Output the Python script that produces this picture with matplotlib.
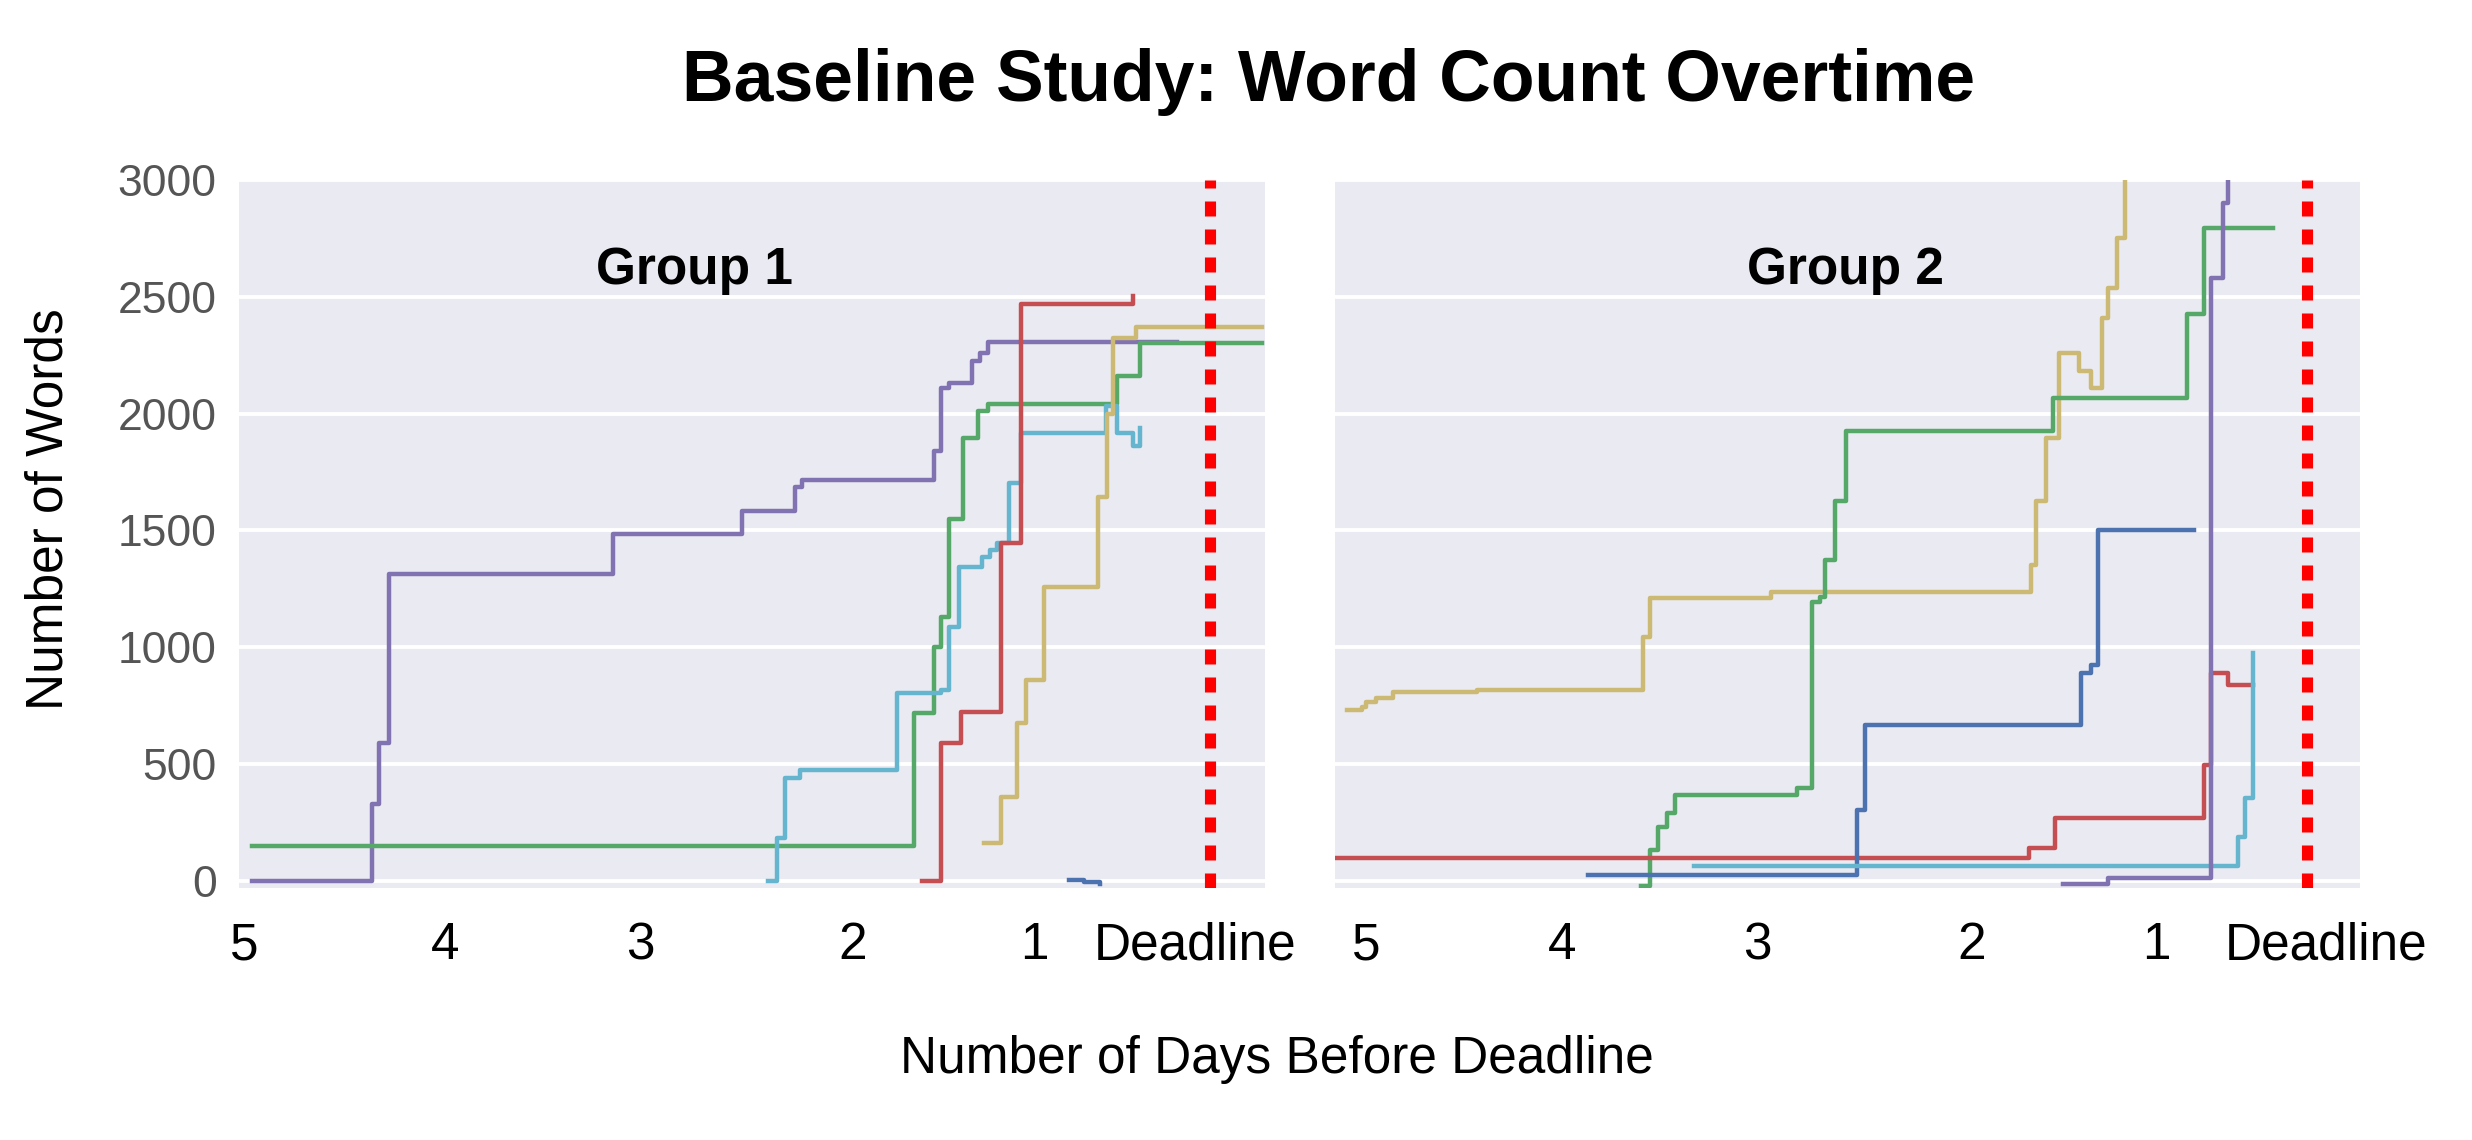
"""Baseline study: word count over time for two groups of writers."""

import matplotlib
matplotlib.use("Agg")
from matplotlib import pyplot as plt

# Days before the deadline (0 = deadline) and word counts.
# Each series is drawn as a step line.
g1_purple_days = [4.96, 4.34, 4.30, 4.25, 3.09, 2.42, 2.15, 2.11, 1.43, 1.39, 1.35, 1.23, 1.19, 1.15, 0.17]
g1_purple_words = [0, 330, 590, 1315, 1485, 1585, 1685, 1715, 1840, 2110, 2130, 2225, 2260, 2305, 2305]
g1_green_days = [4.96, 1.53, 1.43, 1.39, 1.35, 1.28, 1.20, 1.15, 0.48, 0.36, -0.27]
g1_green_words = [150, 718, 1000, 1128, 1550, 1897, 2013, 2043, 2162, 2300, 2300]
g1_cyan_days = [2.29, 2.24, 2.20, 2.12, 1.62, 1.39, 1.35, 1.30, 1.18, 1.14, 1.10, 1.04, 0.98, 0.54, 0.48, 0.40, 0.36]
g1_cyan_words = [0, 184, 440, 474, 803, 816, 1085, 1342, 1385, 1415, 1444, 1701, 1919, 2034, 1915, 1863, 1940]
g1_red_days = [1.49, 1.39, 1.29, 1.08, 0.98, 0.40]
g1_red_words = [0, 590, 722, 1444, 2470, 2504]
g1_yellow_days = [1.17, 1.08, 1.00, 0.95, 0.86, 0.58, 0.53, 0.50, 0.38, -0.27]
g1_yellow_words = [162, 359, 675, 859, 1256, 1641, 2000, 2325, 2372, 2372]
g1_blue_days = [0.73, 0.65, 0.57]
g1_blue_words = [5, -5, -15]

g2_yellow_days = [5.10, 5.02, 5.00, 4.95, 4.86, 4.41, 3.53, 3.49, 2.85, 1.47, 1.44, 1.39, 1.32,
                  1.21, 1.15, 1.09, 1.06, 1.01, 0.97]
g2_yellow_words = [731, 745, 765, 782, 808, 816, 1043, 1209, 1235, 1350, 1628, 1897, 2261,
                   2184, 2111, 2410, 2538, 2752, 3050]
g2_green_days = [3.54, 3.49, 3.45, 3.40, 3.36, 2.71, 2.63, 2.59, 2.56, 2.51, 2.45, 1.35, 0.64, 0.55, 0.18]
g2_green_words = [-20, 132, 231, 290, 368, 397, 1192, 1214, 1372, 1628, 1927, 2068, 2427, 2795, 2795]
g2_red_days = [5.16, 1.48, 1.34, 0.55, 0.51, 0.42, 0.29]
g2_red_words = [98, 141, 269, 496, 889, 838, 838]
g2_blue_days = [3.82, 2.39, 2.35, 1.20, 1.15, 1.11, 0.60]
g2_blue_words = [26, 303, 667, 889, 923, 1500, 1500]
g2_cyan_days = [3.26, 0.37, 0.33, 0.29]
g2_cyan_words = [65, 188, 355, 974]
g2_purple_days = [1.30, 1.06, 0.51, 0.45, 0.42]
g2_purple_words = [-15, 12, 2581, 2902, 3050]

y_ticks = [0, 500, 1000, 1500, 2000, 2500, 3000]
x_tick_labels = ["5", "4", "3", "2", "1", "Deadline"]
# where the hand-placed day labels sit, in days before the deadline
g1_label_days = [5.0, 3.96, 2.95, 1.85, 0.906, 0.078]
g2_label_days = [5.0, 3.96, 2.92, 1.785, 0.802, -0.10]

BLUE, GREEN, RED = "#4C72B0", "#55A868", "#C44E52"
PURPLE, YELLOW, CYAN = "#8172B2", "#CCB974", "#64B5CD"

plt.rcParams["font.family"] = ["Liberation Sans", "DejaVu Sans"]

fig = plt.figure(figsize=(24.72, 11.4), dpi=100)
ax1 = fig.add_axes([0.0967, 0.2211, 0.4150, 0.6211])
ax2 = fig.add_axes([0.5401, 0.2211, 0.4147, 0.6211])

group1 = [(g1_purple_days, g1_purple_words, PURPLE), (g1_green_days, g1_green_words, GREEN),
          (g1_cyan_days, g1_cyan_words, CYAN), (g1_red_days, g1_red_words, RED),
          (g1_yellow_days, g1_yellow_words, YELLOW), (g1_blue_days, g1_blue_words, BLUE)]
group2 = [(g2_yellow_days, g2_yellow_words, YELLOW), (g2_green_days, g2_green_words, GREEN),
          (g2_red_days, g2_red_words, RED), (g2_blue_days, g2_blue_words, BLUE),
          (g2_cyan_days, g2_cyan_words, CYAN), (g2_purple_days, g2_purple_words, PURPLE)]

panels = [(ax1, group1, (5.026, -0.285), g1_label_days, "Group 1", 0.4435),
          (ax2, group2, (5.165, -0.282), g2_label_days, "Group 2", 0.4976)]

for ax, series, xlim, label_days, name, name_x in panels:
    ax.set_facecolor("#EAEAF2")
    for spine in ax.spines.values():
        spine.set_visible(False)
    ax.set_axisbelow(True)
    ax.grid(axis="y", color="white", linewidth=2.8)

    for days, words, colour in series:
        ax.plot(days, words, drawstyle="steps-post", color=colour, linewidth=3.2)

    # deadline marker
    ax.axvline(0, color="#FF0000", linewidth=8, dashes=(1.35, 1.17))

    ax.set_xlim(*xlim)
    ax.set_ylim(-30, 3000)
    ax.set_yticks(y_ticks)
    ax.set_xticks(label_days)
    ax.set_xticklabels(x_tick_labels, fontsize=37, color="black")
    ax.tick_params(axis="both", length=0)
    ax.tick_params(axis="x", pad=24)
    ax.text(name_x, 0.8715, name, transform=ax.transAxes, ha="center", va="center",
            fontsize=37, fontweight="bold")

ax1.set_yticklabels([str(v) for v in y_ticks], fontsize=32, color="#555555")
ax1.tick_params(axis="y", pad=16)
ax2.set_yticklabels([])

fig.text(0.5376, 0.928, "Baseline Study: Word Count Overtime", ha="center", va="center",
         fontsize=51.5, fontweight="bold")
fig.text(0.0198, 0.5535, "Number of Words", rotation=90, ha="center", va="center", fontsize=37)
fig.text(0.5166, 0.0702, "Number of Days Before Deadline", ha="center", va="center", fontsize=37)

fig.savefig("out.png", dpi=100, facecolor="white")
